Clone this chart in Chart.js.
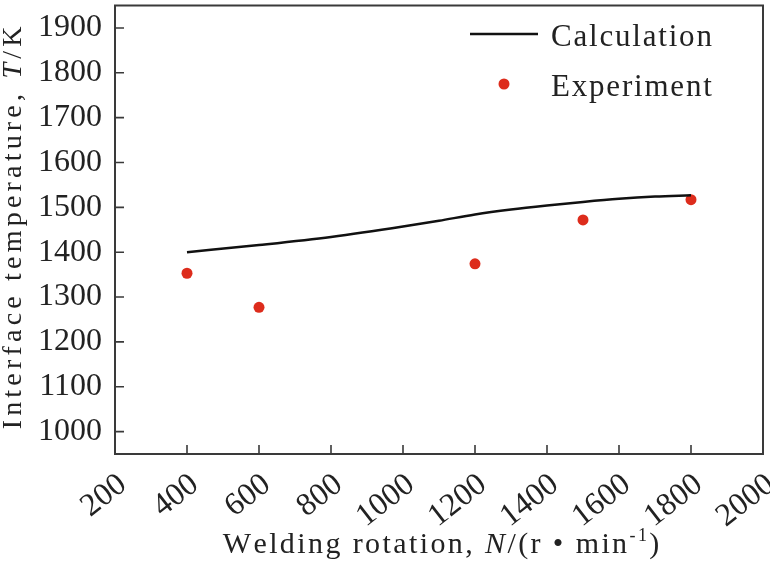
<!DOCTYPE html>
<html>
<head>
<meta charset="utf-8">
<script src="https://cdn.jsdelivr.net/npm/chart.js@4.4.1/dist/chart.umd.min.js"></script>
<style>
  html, body { margin: 0; padding: 0; background: #fff; }
</style>
</head>
<body>
<canvas id="chart" width="770" height="562"></canvas>
<script>
// values
const calcRotation = [400, 600, 800, 1000, 1100, 1200, 1300, 1400, 1500, 1600, 1700, 1800];
const calcTemp = [1400, 1416, 1434, 1457, 1470, 1484, 1495, 1504, 1512, 1519, 1524, 1527];
const expRotation = [400, 600, 1200, 1500, 1800];
const expTemp = [1353, 1277, 1374, 1472, 1517];
const xTickValues = [200, 400, 600, 800, 1000, 1200, 1400, 1600, 1800, 2000];
const yTickValues = [1000, 1100, 1200, 1300, 1400, 1500, 1600, 1700, 1800, 1900];

const SERIF = '"Liberation Serif", "Times New Roman", serif';
const AXIS_COLOR = '#3a3a3a';

// draws a run of text pieces letter by letter with extra spacing
function spacedWidth(ctx, parts, spacing) {
  let w = 0;
  parts.forEach(p => {
    ctx.font = p.font;
    for (const ch of p.text) w += ctx.measureText(ch).width + spacing;
  });
  return w - spacing;
}

function drawSpaced(ctx, parts, x, y, spacing) {
  parts.forEach(p => {
    ctx.font = p.font;
    for (const ch of p.text) {
      ctx.fillText(ch, x, y + (p.dy || 0));
      x += ctx.measureText(ch).width + spacing;
    }
  });
}

const framePlugin = {
  id: 'frame',
  afterDraw(chart) {
    const { ctx, chartArea: a, scales } = chart;
    ctx.save();

    // box round the plot
    ctx.strokeStyle = AXIS_COLOR;
    ctx.lineWidth = 2;
    ctx.strokeRect(a.left, a.top, a.right - a.left, a.bottom - a.top);

    // inward ticks, left and bottom only
    ctx.lineWidth = 1.6;
    ctx.beginPath();
    xTickValues.forEach(v => {
      if (v <= scales.x.min || v >= scales.x.max) return;
      const px = scales.x.getPixelForValue(v);
      ctx.moveTo(px, a.bottom);
      ctx.lineTo(px, a.bottom - 9);
    });
    yTickValues.forEach(v => {
      if (v <= scales.y.min || v >= scales.y.max) return;
      const py = scales.y.getPixelForValue(v);
      ctx.moveTo(a.left, py);
      ctx.lineTo(a.left + 9, py);
    });
    ctx.stroke();

    ctx.fillStyle = '#222';
    ctx.textBaseline = 'alphabetic';
    ctx.textAlign = 'left';

    // x axis title
    const fN = '30px ' + SERIF;
    const fI = 'italic 30px ' + SERIF;
    const xParts = [
      { text: 'Welding rotation, ', font: fN },
      { text: 'N', font: fI },
      { text: '/(r \u2022 min', font: fN },
      { text: '-1', font: '18px ' + SERIF, dy: -12 },
      { text: ')', font: fN }
    ];
    const xSp = 2.4;
    const xw = spacedWidth(ctx, xParts, xSp);
    drawSpaced(ctx, xParts, 441 - xw / 2, 553, xSp);

    // y axis title
    const yParts = [
      { text: 'Interface temperature, ', font: '28px ' + SERIF },
      { text: 'T', font: 'italic 28px ' + SERIF },
      { text: '/K', font: '28px ' + SERIF }
    ];
    const ySp = 4.2;
    const yw = spacedWidth(ctx, yParts, ySp);
    ctx.save();
    ctx.translate(21, 228);
    ctx.rotate(-Math.PI / 2);
    drawSpaced(ctx, yParts, -yw / 2, 0, ySp);
    ctx.restore();

    // legend inside the top right corner
    const calc = chart.data.datasets[0];
    const exp = chart.data.datasets[1];
    const lf = '31px ' + SERIF;
    ctx.strokeStyle = calc.borderColor;
    ctx.lineWidth = calc.borderWidth;
    ctx.beginPath();
    ctx.moveTo(470, 34);
    ctx.lineTo(538, 34);
    ctx.stroke();
    drawSpaced(ctx, [{ text: calc.label, font: lf }], 551, 46, 1.8);

    ctx.fillStyle = exp.backgroundColor;
    ctx.beginPath();
    ctx.arc(504, 84, exp.pointRadius, 0, Math.PI * 2);
    ctx.fill();
    ctx.fillStyle = '#222';
    drawSpaced(ctx, [{ text: exp.label, font: lf }], 551, 96, 1.8);

    ctx.restore();
  }
};

new Chart(document.getElementById('chart'), {
  type: 'scatter',
  data: {
    datasets: [
      {
        label: 'Calculation',
        type: 'line',
        data: calcRotation.map((n, i) => ({ x: n, y: calcTemp[i] })),
        borderColor: '#111',
        borderWidth: 2.5,
        pointRadius: 0,
        fill: false,
        tension: 0.4,
        cubicInterpolationMode: 'monotone'
      },
      {
        label: 'Experiment',
        data: expRotation.map((n, i) => ({ x: n, y: expTemp[i] })),
        backgroundColor: '#dd2c1c',
        borderColor: '#dd2c1c',
        borderWidth: 0,
        pointRadius: 5.5,
        pointHoverRadius: 5.5
      }
    ]
  },
  options: {
    responsive: false,
    devicePixelRatio: 1,
    animation: false,
    layout: { padding: { top: 2, right: 7, left: 0, bottom: 0 } },
    plugins: {
      legend: { display: false },
      tooltip: { enabled: false }
    },
    scales: {
      x: {
        type: 'linear',
        min: 200,
        max: 2000,
        afterBuildTicks: scale => { scale.ticks = xTickValues.map(v => ({ value: v })); },
        afterFit: scale => {
          scale.height = 108;
          scale.paddingLeft = 0;
          scale.paddingRight = 0;
        },
        grid: { display: false, drawTicks: false },
        border: { display: false },
        ticks: {
          autoSkip: false,
          minRotation: 38,
          maxRotation: 38,
          padding: 12,
          labelOffset: 8,
          color: '#222',
          font: { family: SERIF, size: 32 },
          callback: v => String(v)
        }
      },
      y: {
        type: 'linear',
        min: 950,
        max: 1950,
        afterBuildTicks: scale => { scale.ticks = yTickValues.map(v => ({ value: v })); },
        afterFit: scale => {
          scale.width = 115;
          scale.paddingTop = 0;
          scale.paddingBottom = 0;
        },
        grid: { display: false, drawTicks: false },
        border: { display: false },
        ticks: {
          padding: 13,
          color: '#222',
          font: { family: SERIF, size: 32 },
          callback: v => String(v)
        }
      }
    }
  },
  plugins: [framePlugin]
});
</script>
</body>
</html>
